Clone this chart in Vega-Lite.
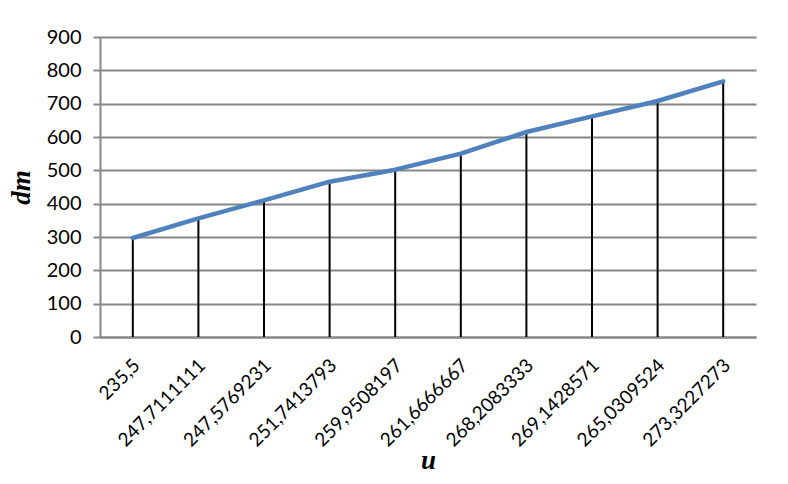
{
  "$schema": "https://vega.github.io/schema/vega-lite/v6.json",
  "width": 656,
  "height": 300,
  "autosize": {"type": "none"},
  "padding": {"left": 100, "top": 37, "right": 32, "bottom": 147},
  "background": "white",
  "config": {
    "view": {"stroke": null},
    "font": "Open Sans"
  },
  "data": {
    "values": [
      {"u": "235,5", "dm": 297},
      {"u": "247,7111111", "dm": 356},
      {"u": "247,5769231", "dm": 410},
      {"u": "251,7413793", "dm": 466},
      {"u": "259,9508197", "dm": 502},
      {"u": "261,6666667", "dm": 550},
      {"u": "268,2083333", "dm": 615},
      {"u": "269,1428571", "dm": 662},
      {"u": "265,0309524", "dm": 708},
      {"u": "273,3227273", "dm": 767}
    ]
  },
  "encoding": {
    "x": {
      "field": "u",
      "type": "ordinal",
      "sort": null,
      "scale": {"paddingInner": 0, "paddingOuter": 0},
      "axis": {
        "title": "u",
        "titleFont": "Liberation Serif",
        "titleFontStyle": "italic",
        "titleFontWeight": "bold",
        "titleFontSize": 27,
        "titleColor": "black",
        "titleX": 328,
        "titleY": 131,
        "titleBaseline": "alphabetic",
        "labelAngle": -45,
        "labelAlign": "right",
        "labelBaseline": "middle",
        "labelFont": "Lato",
        "labelFontSize": 19,
        "labelColor": "black",
        "labelPadding": 25,
        "labelOffset": 4,
        "ticks": false,
        "domainColor": "#868686",
        "domainWidth": 2,
        "grid": false
      }
    },
    "y": {
      "field": "dm",
      "type": "quantitative",
      "scale": {"domain": [0, 900], "nice": false},
      "axis": {
        "values": [0, 100, 200, 300, 400, 500, 600, 700, 800, 900],
        "title": "dm",
        "titleFont": "Liberation Serif",
        "titleFontStyle": "italic",
        "titleFontWeight": "bold",
        "titleFontSize": 27,
        "titleColor": "black",
        "titleAngle": -90,
        "titleX": -71,
        "titleY": 150,
        "titleAlign": "center",
        "titleBaseline": "alphabetic",
        "labelFont": "Lato",
        "labelFontSize": 20,
        "labelColor": "black",
        "labelPadding": 12,
        "tickSize": 7,
        "tickColor": "#868686",
        "tickWidth": 2,
        "domainColor": "#868686",
        "domainWidth": 2,
        "gridColor": "#868686",
        "gridWidth": 2
      }
    }
  },
  "layer": [
    {
      "mark": {"type": "rule", "color": "black", "strokeWidth": 2},
      "encoding": {"y2": {"datum": 0}}
    },
    {
      "mark": {"type": "line", "color": "#4F81BD", "strokeWidth": 4.5, "strokeCap": "round", "strokeJoin": "round"}
    }
  ]
}
